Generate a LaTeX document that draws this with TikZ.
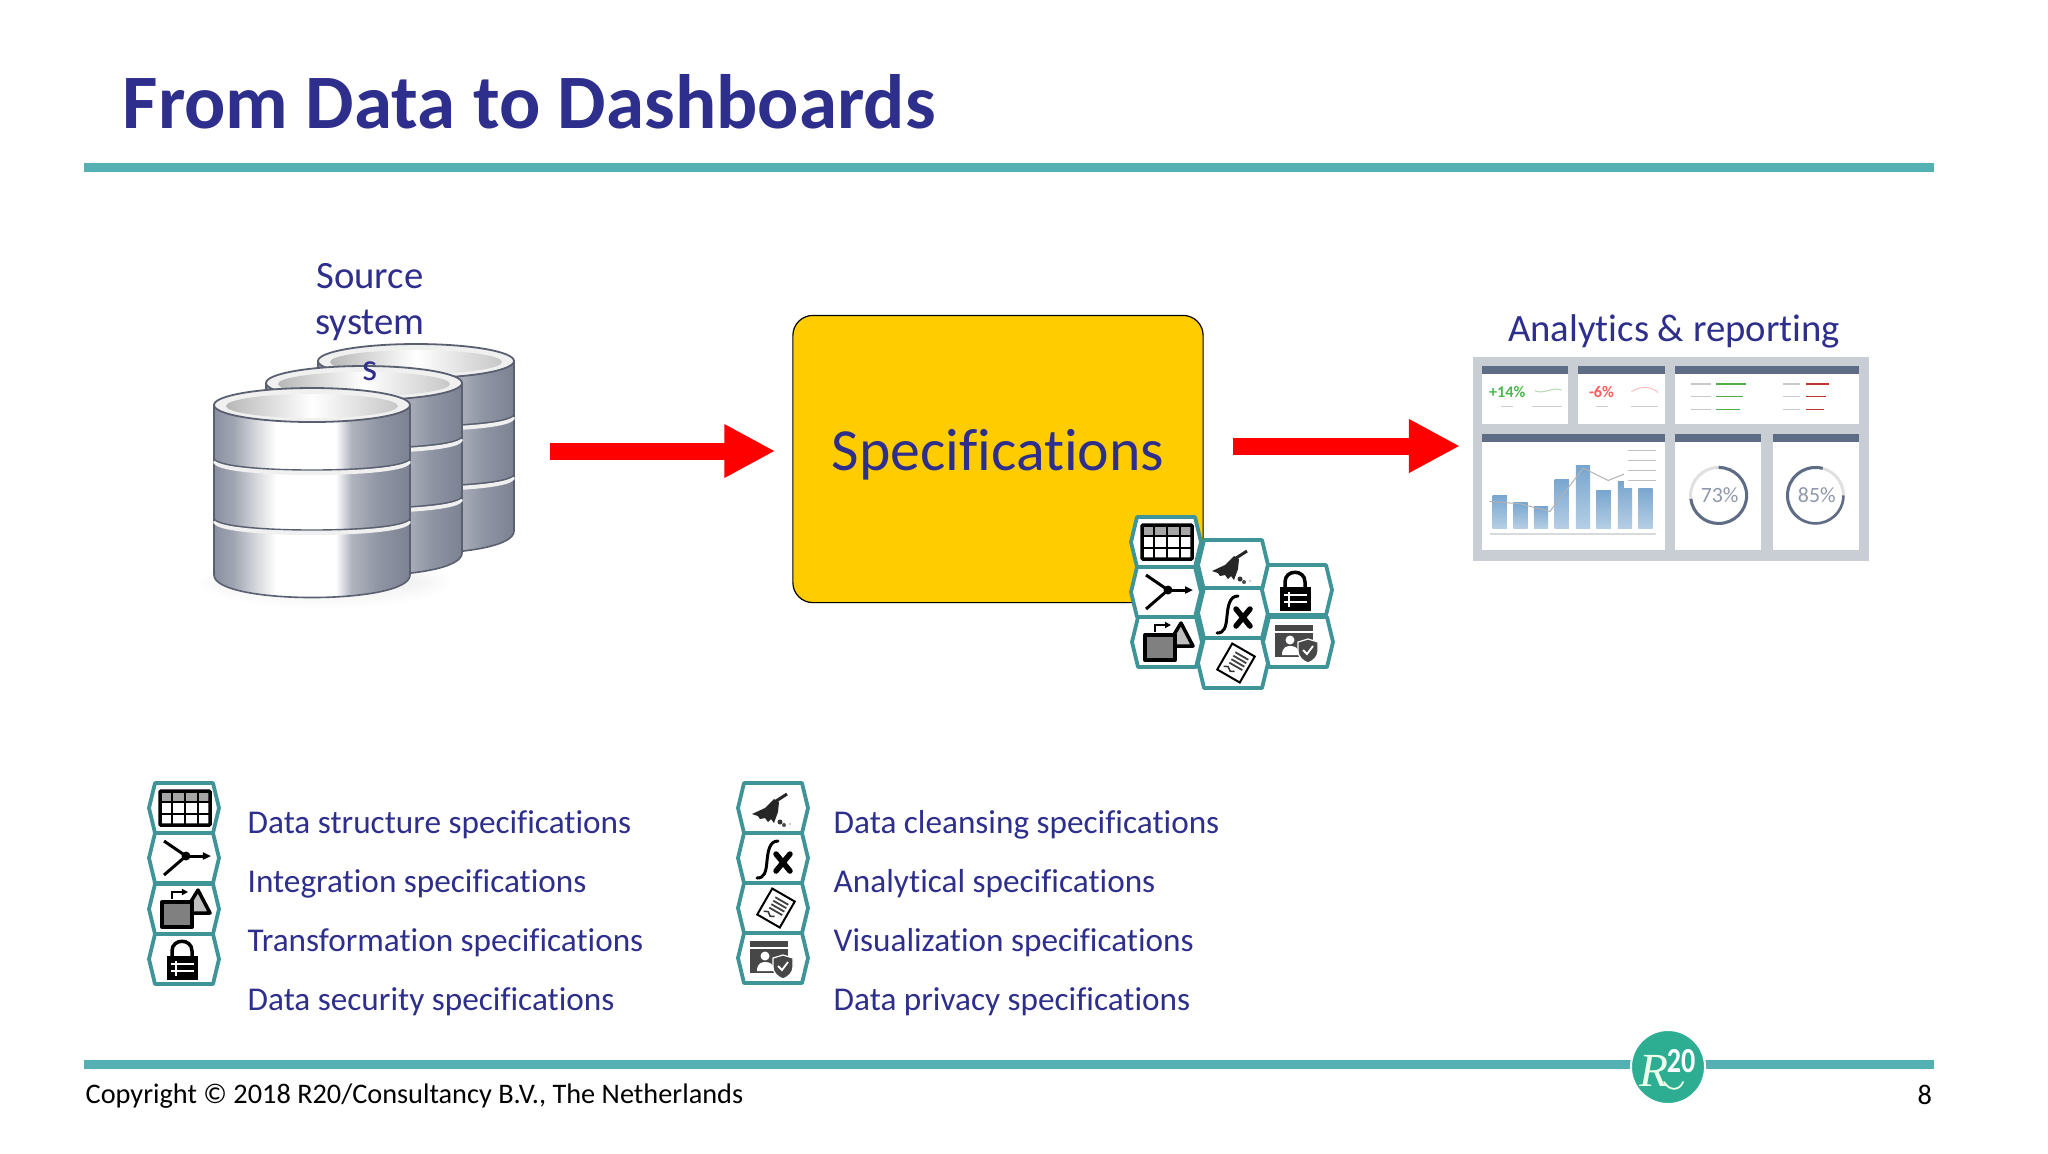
\documentclass[tikz,border=0pt]{standalone}
\usepackage{fontspec}
\usepackage{xcolor}
\setmainfont{Carlito}[Ligatures=NoCommon]
\newfontfamily\logofont{Liberation Serif}
\usetikzlibrary{arrows.meta}

\definecolor{titleblue}{HTML}{2E2E8C}
\definecolor{ruleteal}{HTML}{55B0B4}
\definecolor{hexteal}{HTML}{3F9497}
\definecolor{specyellow}{HTML}{FFCC00}
\definecolor{logogreen}{HTML}{2DAE92}
\definecolor{panelhead}{HTML}{5F6C86}
\definecolor{dashgrey}{HTML}{C9CDD4}
\definecolor{barblue}{HTML}{79A6CF}
\definecolor{drumline}{HTML}{5A6070}
\definecolor{drumedge}{HTML}{8A90A0}
\definecolor{drumside}{HTML}{A0A5B2}
\definecolor{drumsoft}{HTML}{D8DADE}
\definecolor{drumfall}{HTML}{B0B4BF}
\definecolor{drumdeep}{HTML}{9095A4}
\definecolor{drumend}{HTML}{7C8292}

\pgfdeclarehorizontalshading{metal}{100bp}{color(0bp)=(drumedge); color(25bp)=(drumedge);
  color(30bp)=(drumside); color(36bp)=(drumsoft); color(41bp)=(white); color(56bp)=(white);
  color(60bp)=(drumfall); color(67bp)=(drumdeep); color(75bp)=(drumend); color(100bp)=(drumend)}

\tikzset{
  rulebar/.style={ruleteal, line width=0.09cm},
  bigarrow/.style={red, line width=0.17cm, -{Triangle[length=0.51cm,width=0.50cm]}},
  slidetitle/.style={anchor=west, inner sep=0, text=titleblue, font=\fontsize{21.9}{26}\selectfont\bfseries},
  bluetext/.style={inner sep=0, text=titleblue, font=\fontsize{11}{13}\selectfont, align=center},
  legendtext/.style={anchor=west, inner sep=0, text=titleblue, font=\fontsize{9.45}{11}\selectfont},
  foottext/.style={anchor=west, inner sep=0, font=\fontsize{8.05}{9}\selectfont},
  specbox/.style={draw=black, fill=specyellow, line width=0.012cm, rounded corners=0.2cm, minimum width=4.10cm, minimum height=2.87cm, inner sep=0},
  iconline/.style={black, line width=0.025cm},
  tinytext/.style={inner sep=0, font=\fontsize{4.6}{5}\selectfont},
  ringtext/.style={inner sep=0, text=panelhead!70, font=\fontsize{6.2}{7}\selectfont},
  pics/hexicon/.style={code={
    \draw[hexteal, line width=0.038cm, fill=white, line join=round] (-35,0) -- (-29,-25) -- (29,-25) -- (35,0) -- (29,25) -- (-29,25) -- cycle;
    \pic {#1};
  }},
  pics/tablepic/.style={code={
    \fill[black!35] (-24,-17) rectangle (26,-6);
    \foreach \px in {-12,1,14} \draw[iconline] (\px,-17) -- (\px,17);
    \foreach \py in {-6,6} \draw[iconline] (-24,\py) -- (26,\py);
    \draw[black, line width=0.035cm, rounded corners=0.01cm] (-24,-17) rectangle (26,17);
  }},
  pics/joinpic/.style={code={
    \draw[iconline, line width=0.03cm] (-20,-17) -- (2,-2) -- (-20,17);
    \fill (2,-2) circle (4.5);
    \draw[iconline, line width=0.03cm, -{Triangle[length=0.08cm,width=0.07cm]}] (2,-2) -- (27,-2);
  }},
  pics/shapepic/.style={code={
    \draw[black, fill=black!25, line width=0.035cm, line join=round] (14,-19) -- (26,4) -- (0,4) -- cycle;
    \draw[black, fill=black!50, line width=0.04cm, line join=round] (-22,-7) rectangle (8,18);
    \draw[iconline, -{Triangle[length=0.06cm,width=0.06cm]}] (-12,-10) -- (-12,-17) -- (4,-17);
  }},
  pics/lockpic/.style={code={
    \draw[black, line width=0.035cm] (-12,-3) -- (-12,-8) .. controls (-12,-21) and (8,-21) .. (8,-8) -- (8,-3);
    \fill[black] (-17,-3) rectangle (14,21);
    \foreach \py in {5,12} \draw[white, line width=0.012cm] (-13,\py) -- (10,\py);
    \draw[white, line width=0.012cm] (-8,2) -- (-8,17);
  }},
  pics/broompic/.style={code={
    \draw[black!85, line width=0.03cm] (0,-5) -- (14,-14);
    \fill[black!85] (-21,6) -- (-8,0) -- (1,-9) -- (6,-6) -- (5,4) -- (1,15) -- (-2,11) -- (-5,14) -- (-8,10) -- (-13,11) -- (-15,8) -- cycle;
    \fill[black!80] (7,14) circle (2.5);
    \fill[black!70] (11,17) circle (2);
    \fill[black!40] (17,16) circle (0.9);
  }},
  pics/fxpic/.style={code={
    \draw[black, line width=0.03cm, line cap=round] (5,-17) .. controls (-4,-17) and (-5,-6) .. (-6,3) .. controls (-7,15) and (-9,20) .. (-16,20);
    \draw[black, line width=0.055cm, line cap=round] (3,-4) -- (17,13) (17,-4) -- (3,13);
  }},
  pics/paperpic/.style={code={
    \begin{scope}[shift={(3,0)}, rotate=-30]
      \draw[black, fill=white, line width=0.02cm] (-13,-15) rectangle (13,15);
      \foreach \py in {-9,-5,-1,3} \draw[black!75, line width=0.018cm] (-6,\py) -- (9,\py);
      \draw[black!80, line width=0.015cm] (-9,9) -- (-5,7) -- (-1,10) -- (3,8);
    \end{scope}
  }},
  pics/privacypic/.style={code={
    \fill[black!72] (-23,-17) rectangle (15,15);
    \draw[white, line width=0.012cm] (-23,-10) -- (15,-10);
    \fill[white] (-8,-2) circle (4.5);
    \fill[white] (-16,13) .. controls (-16,5) and (-11,4) .. (-8,4) .. controls (-4,4) and (1,5) .. (1,13) -- cycle;
    \draw[white, fill=black!72, line width=0.012cm] (10,-3) -- (20,0) -- (20,9) .. controls (20,15) and (15,19) .. (10,21) .. controls (5,19) and (0,15) .. (0,9) -- (0,0) -- cycle;
    \draw[white, line width=0.018cm] (5,8) -- (9,12) -- (15,4);
  }},
  pics/dbdrum/.style={code={
    \draw[drumline, line width=0.016cm, shading=metal] (-98,0) -- (-98,170) .. controls (-98,200) and (98,200) .. (98,170) -- (98,0) -- cycle;
    \foreach \gy in {53,113} {
      \draw[black!6, line width=0.04cm] (-97,\gy+3) .. controls (-97,\gy+19) and (97,\gy+19) .. (97,\gy+3);
      \draw[drumline, line width=0.014cm] (-98,\gy) .. controls (-98,\gy+16) and (98,\gy+16) .. (98,\gy);
    }
    \draw[drumline, line width=0.018cm, fill=black!6] (0,0) ellipse [x radius=98, y radius=17];
    \shade[left color=black!28, right color=black!22, middle color=white] (0,1) ellipse [x radius=86, y radius=12];
  }},
}

\begin{document}
\begin{tikzpicture}[x=0.01cm, y=-0.01cm]
  \useasboundingbox (0,0) rectangle (2048,1153);

  \node[slidetitle] (title) at (122,102) {From Data to Dashboards};
  \draw[rulebar] (84,167) -- (1934,167);
  \draw[rulebar] (84,1064) -- (1934,1064);

  \foreach \sh in {0,...,5}
    \fill[black, opacity=0.008] (325,582) ellipse [x radius=125-6*\sh, y radius=26-3*\sh];
  \pic at (416,361) {dbdrum};
  \pic at (364,383) {dbdrum};
  \pic at (312,405) {dbdrum};
  \node[bluetext] (source) at (370,322) {Source\\system\\s};

  \node[specbox] (spec) at (998,459) {};
  \node[inner sep=0, text=titleblue, font=\fontsize{17}{18}\selectfont] (speclabel) at (spec.center) [yshift=0.04cm] {Specifications};
  \node[bluetext] (analytics) at (1674,331) {Analytics \& reporting};

  \node[fill=dashgrey, minimum width=3.96cm, minimum height=2.04cm, inner sep=0] (dash) at (1671,459) {};
  \begin{scope}[shift={(1480,350)}, x=0.00333cm, y=-0.00333cm]
    \foreach \pa/\pb/\pc/\pd in {5/265/48/222, 295/555/48/222, 587/1140/48/222, 5/555/253/602, 587/845/253/602, 880/1138/253/602} {
      \fill[white] (\pa,\pc) rectangle (\pb,\pd);
      \fill[panelhead] (\pa,\pc) rectangle (\pb,\pc+24);
    }
    \node[tinytext, text=green!60!black!70] (plusfourteen) at (82,126) {\textbf{+14\%}};
    \node[tinytext, text=red!65] (minussix) at (365,126) {\textbf{-6\%}};
    \draw[green!50!black!30, line width=0.01cm] (165,122) .. controls (190,135) and (215,110) .. (245,120);
    \draw[red!25, line width=0.01cm] (455,125) .. controls (480,110) and (510,105) .. (535,128);
    \foreach \tx/\tw in {62/36, 155/90, 348/36, 455/80}
      \draw[black!20, line width=0.012cm] (\tx,170) -- (\tx+\tw,170);
    \foreach \py/\gx/\rx in {102/800/1050, 140/790/1040, 178/780/1035} {
      \draw[green!55!black!70, line width=0.015cm] (710,\py) -- (\gx,\py);
      \draw[red!70!black!80, line width=0.015cm] (980,\py) -- (\rx,\py);
      \draw[black!22, line width=0.012cm] (635,\py) -- (695,\py);
      \draw[black!22, line width=0.012cm] (910,\py) -- (960,\py);
    }
    \foreach \bx/\by in {38/437, 100/458, 162/470, 224/388, 288/348, 350/423, 414/395, 476/415}
      \shade[top color=barblue, bottom color=barblue!55] (\bx,\by) rectangle (\bx+43,535);
    \draw[black!30, line width=0.01cm] (28,455) -- (120,462) -- (210,485) -- (268,410) -- (310,355) -- (385,392) -- (435,372) -- (470,395);
    \draw[black!15, line width=0.012cm] (30,553) -- (530,553);
    \fill[white] (432,285) rectangle (555,415);
    \foreach \py in {303,333,363,393} \draw[black!25, line width=0.012cm] (445,\py) -- (530,\py);
    \draw[black!12, line width=0.03cm] (717,437) circle [radius=0.28cm];
    \draw[panelhead, line width=0.03cm] (717,437) ++(90:0.28cm) arc[start angle=90, end angle=-173, radius=0.28cm];
    \draw[black!12, line width=0.03cm] (1008,437) circle [radius=0.28cm];
    \draw[panelhead, line width=0.03cm] (1008,437) ++(75:0.28cm) arc[start angle=75, end angle=235, radius=0.28cm];
    \draw[panelhead, line width=0.025cm] (1008,437) ++(235:0.28cm) arc[start angle=235, end angle=360, radius=0.28cm];
    \node[ringtext] (seventythree) at (720,435) {73\%};
    \node[ringtext] (eightyfive) at (1012,435) {85\%};
  \end{scope}

  \coordinate (srcout) at (550,451);
  \coordinate (dashin) at (1460,446);
  \draw[bigarrow, shorten >=0.17cm] (srcout) -- (spec.west |- srcout);
  \draw[bigarrow, shorten <=0.29cm] (spec.east |- dashin) -- (dashin);

  \pic at (1166,542) {hexicon=tablepic};
  \pic at (1166,592) {hexicon=joinpic};
  \pic at (1167,642) {hexicon=shapepic};
  \pic at (1233,565) {hexicon=broompic};
  \pic at (1233,613) {hexicon=fxpic};
  \pic at (1233,663) {hexicon=paperpic};
  \pic at (1297,590) {hexicon=lockpic};
  \pic at (1298,642) {hexicon=privacypic};

  \pic at (184,808) {hexicon=tablepic};
  \pic at (184,858) {hexicon=joinpic};
  \pic at (184,909) {hexicon=shapepic};
  \pic at (184,959) {hexicon=lockpic};
  \pic at (773,808) {hexicon=broompic};
  \pic at (773,858) {hexicon=fxpic};
  \pic at (773,908) {hexicon=paperpic};
  \pic at (773,958) {hexicon=privacypic};

  \node[legendtext] (structure) at (247,825) {Data structure specifications};
  \node[legendtext] (integration) at (247,884) {Integration specifications};
  \node[legendtext] (transformation) at (247,943) {Transformation specifications};
  \node[legendtext] (security) at (247,1002) {Data security specifications};
  \node[legendtext] (cleansing) at (833,825) {Data cleansing specifications};
  \node[legendtext] (analytical) at (833,884) {Analytical specifications};
  \node[legendtext] (visualization) at (833,943) {Visualization specifications};
  \node[legendtext] (privacy) at (833,1002) {Data privacy specifications};

  \node[circle, fill=logogreen, draw=white, line width=0.02cm, minimum size=0.74cm, inner sep=0] (logo) at (1668,1067) {};
  \node[inner sep=0, text=green!8, font=\logofont\fontsize{13.5}{15}\selectfont\itshape] (logor) at (1654,1071) {R};
  \draw[green!8, line width=0.018cm, line cap=round] (1664,1082) .. controls (1670,1092) and (1680,1090) .. (1683,1082);
  \node[inner sep=0, text=white, xscale=0.8, font=\fontsize{10}{10}\selectfont\bfseries] (logotwenty) at (1681,1061) {20};

  \node[foottext] (copyright) at (85,1096) {Copyright © 2018 R20/Consultancy B.V., The Netherlands};
  \node[foottext] (pagenum) at (1917,1095) {8};
\end{tikzpicture}
\end{document}
